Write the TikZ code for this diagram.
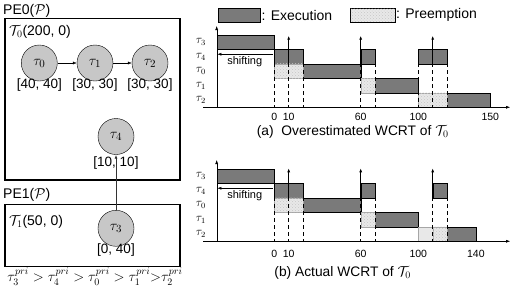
\documentclass[tikz,border=0pt]{standalone}
\usepackage{amsmath,amssymb}
\usepackage{fontspec}
\setmainfont{Liberation Sans}
\usepackage{tikz}
\usetikzlibrary{arrows.meta,patterns}

\definecolor{execgray}{gray}{0.48}
\definecolor{taskgray}{gray}{0.78}
\definecolor{waitgray}{gray}{0.91}

\begin{document}
\begin{tikzpicture}[x=1pt,y=-1pt,>={Latex[length=4pt,width=3pt]},
    task/.style={circle,draw,fill=taskgray,minimum size=36pt,inner sep=0pt,font=\fontsize{15}{15}\selectfont},
    cost/.style={inner sep=0pt,font=\fontsize{13.5}{14}\selectfont},
    pe/.style={draw,line width=1.3pt},
    txt/.style={anchor=west,inner sep=0pt,font=\fontsize{14}{14}\selectfont},
    exec/.style={draw,fill=execgray},
    wait/.style={draw=gray!70,fill=waitgray,postaction={pattern=crosshatch dots,pattern color=gray!45}},
    idle/.style={draw=gray!70,fill=waitgray},
    tickline/.style={dashed,dash pattern=on 4pt off 3pt,line width=1pt},
    rel/.style={->,line width=0.8pt},
    num/.style={font=\fontsize{10.5}{11}\selectfont,inner sep=0pt},
    rowlbl/.style={font=\fontsize{11.5}{12}\selectfont,inner sep=0pt},
    captxt/.style={font=\fontsize{13.8}{14}\selectfont,inner sep=0pt}]
  \useasboundingbox (0,0) rectangle (517,293);

  \draw[pe] (5,18.3) rectangle (180,180);
  \draw[pe] (5,204.3) rectangle (180,266.7);
  \node[txt] (pe0) at (3,10.5)  {PE0($\mathcal{P}$)};
  \node[txt] (pe1) at (3,195)   {PE1($\mathcal{P}$)};
  \node[txt] (g0)  at (9,32)    {$\mathcal{T}_0$(200, 0)};
  \node[txt] (g1)  at (9,221.7) {$\mathcal{T}_1$(50, 0)};

  \node[task,label={[cost,label distance=-3pt]below:{[40, 40]}}] (t0) at (39.3,63)   {$\tau_0$};
  \node[task,label={[cost,label distance=-3pt]below:{[30, 30]}}] (t1) at (95,63)     {$\tau_1$};
  \node[task,label={[cost,label distance=-3pt]below:{[30, 30]}}] (t2) at (150,63)    {$\tau_2$};
  \node[task,label={[cost,label distance=2pt]below:{[10, 10]}}] (t4) at (116,136.5) {$\tau_4$};
  \node[task,label={[cost,label distance=-2.5pt]below:{[0, 40]}}] (t3) at (116,228.3) {$\tau_3$};
  \draw[->] (t0) -- (t1);
  \draw[->] (t1) -- (t2);
  \draw[->,line width=0.8pt,draw=black!80] (t3) -- (t4);

  \node[inner sep=0pt,font=\fontsize{14}{14}\selectfont] (prio) at (95,277)
    {$\tau_3^{pri} > \tau_4^{pri} > \tau_0^{pri} > \tau_1^{pri}{>}\tau_2^{pri}$};

  \draw[exec] (218.3,8.3) rectangle (260,21.7);
  \node[txt] (lexec) at (261.5,15) {: Execution};
  \draw[draw,fill=waitgray,postaction={pattern=crosshatch dots,pattern color=gray!45}] (350,8.3) rectangle (395,21.7);
  \node[txt] (lwait) at (396,15) {: Preemption};

  % (a)
  \begin{scope}[shift={(274.3,35)},x=1.44pt,y=-14.45pt]
    \foreach \r/\a/\b in {0/-40/0,1/0/20,1/60/70,1/100/120,2/20/60,3/70/100,4/120/150}
      \draw[exec] (\a,\r) rectangle (\b,\r+1);
    \foreach \r/\a/\b in {2/0/20,3/60/70,4/100/120}
      \draw[wait] (\a,\r) rectangle (\b,\r+1);
    \foreach \t in {0,10,20,60,70,100,110,120}
      \draw[tickline] (\t,1) -- (\t,5);
    \foreach \t in {10,60,110}
      \draw[rel] (\t,2) -- (\t,0.05);
    \draw[->] (-49.5,5) -- (163.7,5);
    \draw[->] (-40,5) -- (-40,-0.62);
    \draw[->] (-1,1.33) -- (-39.5,1.33);
    \node[font=\fontsize{11}{11}\selectfont,inner sep=0pt] (sa) at (-20.5,1.85) {shifting};
    \foreach \i/\n in {0/3,1/4,2/0,3/1,4/2}
      \node[rowlbl] (ya\n) at (-51,\i+0.5) {$\tau_\n$};
    \foreach \t in {0,10,60,100,150}
      \node[num] (ta\t) at (\t,5.7) {\t};
    \node[captxt] (capa) at (54.5,6.72) {(a)\ \ Overestimated WCRT of $\mathcal{T}_0$};
  \end{scope}

  % (b)
  \begin{scope}[shift={(274.3,169)},x=1.44pt,y=-14.45pt]
    \foreach \r/\a/\b in {0/-40/0,1/0/20,1/60/70,1/110/120,2/20/60,3/70/100,4/120/140}
      \draw[exec] (\a,\r) rectangle (\b,\r+1);
    \draw[idle] (100,4) rectangle (110,5);
    \foreach \r/\a/\b in {2/0/20,3/60/70,4/110/120}
      \draw[wait] (\a,\r) rectangle (\b,\r+1);
    \foreach \t in {0,10,20,60,70,110,120}
      \draw[tickline] (\t,1) -- (\t,5);
    \foreach \t in {10,60,110}
      \draw[rel] (\t,2) -- (\t,-0.05);
    \draw[->] (-49.5,5) -- (163.7,5);
    \draw[->] (-40,5) -- (-40,-0.62);
    \draw[->] (-1,1.33) -- (-39.5,1.33);
    \node[font=\fontsize{11}{11}\selectfont,inner sep=0pt] (sb) at (-20.5,1.85) {shifting};
    \foreach \i/\n in {0/3,1/4,2/0,3/1,4/2}
      \node[rowlbl] (yb\n) at (-51,\i+0.5) {$\tau_\n$};
    \foreach \t in {0,10,60,100,140}
      \node[num] (tb\t) at (\t,5.85) {\t};
    \node[captxt] (capb) at (47.5,7.16) {(b) Actual WCRT of $\mathcal{T}_0$};
  \end{scope}
\end{tikzpicture}
\end{document}
